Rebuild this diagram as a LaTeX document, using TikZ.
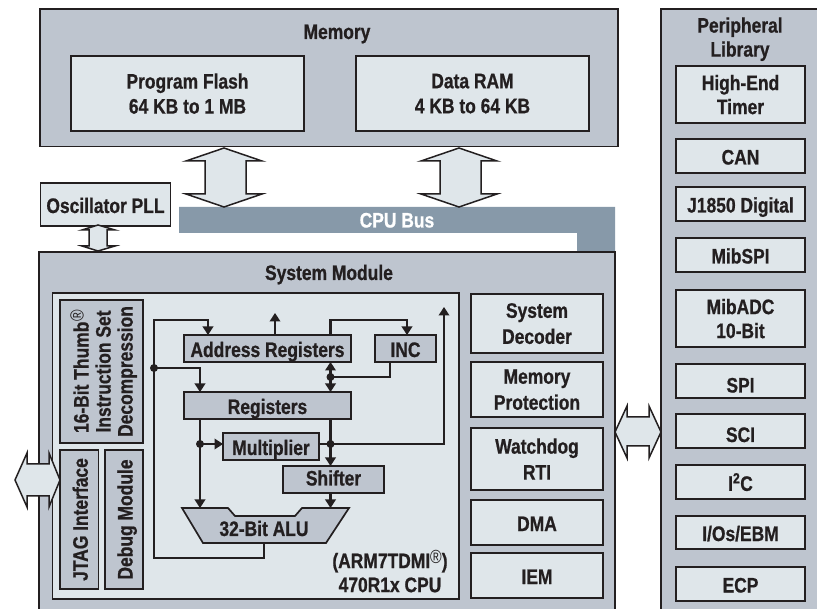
\documentclass[tikz,border=0pt]{standalone}
\usepackage{fontspec}
\setmainfont[FakeStretch=0.83,BoldFeatures={FakeBold=0.8}]{Liberation Sans}
\usetikzlibrary{arrows.meta}
\definecolor{panel}{HTML}{BEC5CF}
\definecolor{pale}{HTML}{DFE6EA}
\definecolor{busc}{HTML}{8799A9}
\definecolor{ink}{HTML}{231F20}
\newcommand\regmark{\raisebox{5pt}{\fontsize{19}{19}\selectfont\mdseries ®}}
\tikzset{
  lift/.style={execute at begin node={\rule{0pt}{#1pt}}},
  lbl/.style={text=ink,align=center,inner sep=0pt,text depth=0pt,font=\bfseries\fontsize{21}{26}\selectfont,lift=17},
  paleb/.style={lbl,draw=ink,line width=1.7pt,fill=pale,outer sep=0pt},
  greyb/.style={lbl,draw=ink,line width=1.7pt,fill=panel,outer sep=0pt},
  panelb/.style={fill=panel,draw=ink,line width=1.7pt},
  wire/.style={draw=ink,line width=2.6pt},
  arr/.style={wire,-{Triangle[length=8.5pt,width=10.5pt]}},
  darr/.style={wire,{Triangle[length=8.5pt,width=10.5pt]}-{Triangle[length=8.5pt,width=10.5pt]}},
  dot/.style={circle,fill=ink,inner sep=0pt,minimum size=8pt},
  dbl/.style={fill=pale,draw=ink,line width=1.5pt,line join=miter},
  tight/.style={font=\bfseries\fontsize{21}{24}\selectfont},
  memb/.style={paleb,font=\bfseries\fontsize{21}{25}\selectfont,lift=21},
  thumbb/.style={greyb,execute at begin node={},font=\bfseries\fontsize{21}{22}\selectfont}
}
% [style] name x0 y0 x1 y1 text
\newcommand\bx[7][paleb]{%
  \pgfmathsetmacro\cxv{(#3+#5)/2}\pgfmathsetmacro\cyv{(#4+#6)/2}%
  \node[#1,minimum width={(#5-#3)*1pt},minimum height={(#6-#4)*1pt}] (#2) at (\cxv,\cyv) {#7};}
\newcommand\vbx[7][greyb]{%
  \pgfmathsetmacro\cxv{(#3+#5)/2}\pgfmathsetmacro\cyv{(#4+#6)/2}%
  \node[#1,rotate=90,minimum width={(#6-#4)*1pt},minimum height={(#5-#3)*1pt}] (#2) at (\cxv,\cyv) {#7};}
\begin{document}
\begin{tikzpicture}[x=1pt,y=-1pt]
\useasboundingbox (0,0) rectangle (817,609);
\fill[white] (0,0) rectangle (817,609);
% Memory
\bx[panelb]{memory}{40}{9}{618}{146.5}{}
\node[lbl] (memt) at (337,30.5) {Memory};
\bx[memb]{flash}{71}{56}{304}{131}{Program Flash\\64 KB to 1 MB}
\bx[memb]{ram}{356}{56}{589}{131}{Data RAM\\4 KB to 64 KB}
% CPU bus
\fill[busc] (179,207) -- (615,207) -- (615,254) -- (577,254) -- (577,233) -- (179,233) -- cycle;
\node[lbl,text=white] (bus) at (397,219) {CPU Bus};
% bus arrows
\draw[dbl] (224,148) -- (262,161) -- (246,161) -- (246,194) -- (262,194) -- (224,207) -- (186,194) -- (205,194) -- (205,161) -- (186,161) -- cycle;
\draw[dbl] (459,148) -- (497,161) -- (481,161) -- (481,194) -- (497,194) -- (459,207) -- (421,194) -- (440,194) -- (440,161) -- (421,161) -- cycle;
% Oscillator
\bx{osc}{40.5}{183}{170.5}{226}{Oscillator PLL}
\draw[dbl] (98,225) -- (115,230) -- (107,230) -- (107,246) -- (115,246) -- (98,251) -- (82,246) -- (89,246) -- (89,230) -- (82,230) -- cycle;
% System module
\fill[panel] (39,252) rectangle (615,609);
\draw[ink,line width=1.7pt] (39,609) -- (39,252) -- (615,252) -- (615,609);
\node[lbl] (sys) at (329,271.5) {System Module};
\bx{cpu}{52.5}{293}{459}{599}{}
\vbx[thumbb]{thumb}{60}{300}{143}{443}{16-Bit Thumb\regmark\\Instruction Set\\Decompression}
\vbx{jtag}{60}{450}{98.5}{589}{JTAG Interface}
\vbx{debug}{105}{450}{143}{589}{Debug Module}
% CPU blocks
\bx[greyb]{areg}{184}{335}{351}{362}{Address Registers}
\bx[greyb]{inc}{375}{335}{436}{362}{INC}
\bx[greyb]{regs}{184}{392}{351}{419}{Registers}
\bx[greyb]{mult}{223}{433}{319}{460}{Multiplier}
\bx[greyb,text height=12pt]{shift}{283}{466}{384}{493}{Shifter}
\draw[fill=panel,draw=ink,line width=1.7pt] (182,508) -- (228,508) -- (235,516) -- (295,516) -- (302,508) -- (349,508) -- (326,543) -- (203,543) -- cycle;
\node[lbl] (alu) at (264,527.5) {32-Bit ALU};
\coordinate (alutop) at (0,508);
\coordinate (alubot) at (264,543);
\node[lbl,tight] (cpulab) at (390,571) {(ARM7TDMI\regmark)\\470R1x CPU};
% wires
\coordinate (xl) at (154,0);
\coordinate (xa) at (208,0);
\coordinate (xb) at (200,0);
\coordinate (xu) at (275,0);
\coordinate (xr) at (330.5,0);
\coordinate (xi) at (407,0);
\coordinate (xo) at (444,0);
\coordinate (yt) at (0,320);
\coordinate (ydot) at (0,368);
\coordinate (ym) at (0,377);
\coordinate (yw) at (0,444);
\draw[arr] (alubot) |- (154,558) -- (xl |- yt) -- (xa |- yt) -- (xa |- areg.north);
\node[dot] (d1) at (xl |- ydot) {};
\draw[arr] (d1.center) -| (xb |- regs.north);
\draw[arr] (xu |- areg.north) -- (275,313);
\draw[arr] (xr |- areg.north) |- (xi |- yt) -- (xi |- inc.north);
\draw[darr] (xr |- areg.south) -- (xr |- regs.north);
\node[dot] (d2) at (xr |- ym) {};
\draw[wire] (390,362) |- (d2.center);
\draw[arr] (xb |- regs.south) -- (xb |- alutop);
\node[dot] (d3) at (xb |- yw) {};
\draw[arr] (d3.center) -- (mult.west |- yw);
\draw[arr] (xr |- regs.south) -- (xr |- shift.north);
\node[dot] (d4) at (xr |- yw) {};
\draw[arr] (mult.east |- yw) -| (xo |- 0,307);
\draw[arr] (xr |- shift.south) -- (xr |- alutop);
% side modules
\bx{sdec}{471}{294}{603}{353}{System\\Decoder}
\bx{mprot}{471}{362}{603}{417}{Memory\\Protection}
\bx{wdog}{471}{428}{603}{490}{Watchdog\\RTI}
\bx{dma}{471}{500}{603}{545}{DMA}
\bx{iem}{471}{553}{603}{598}{IEM}
% Peripheral library
\fill[panel] (661,9) rectangle (817,609);
\draw[ink,line width=1.7pt] (661,609) -- (661,9) -- (817,9);
\node[lbl,tight] (peri) at (740,37) {Peripheral\\Library};
\bx[paleb,tight]{het}{676}{66}{805}{123}{High-End\\Timer}
\bx{can}{676}{139}{805}{173}{CAN}
\bx{j1850}{676}{187}{805}{221}{J1850 Digital}
\bx{mibspi}{676}{238}{805}{272}{MibSPI}
\bx[paleb,tight]{mibadc}{676}{290}{805}{347}{MibADC\\10-Bit}
\bx[paleb,lift=23]{spi}{676}{364}{805}{398}{SPI}
\bx[paleb,lift=22]{sci}{676}{414}{805}{448}{SCI}
\bx{i2c}{676}{465}{805}{499}{I\textsuperscript{2}C}
\bx{ios}{676}{516}{805}{549}{I/Os/EBM}
\bx{ecp}{676}{567}{805}{601}{ECP}
% side double arrows
\draw[dbl] (615,432) -- (627,406) -- (627,417) -- (649,417) -- (649,406) -- (661,432) -- (649,458) -- (649,446) -- (627,446) -- (627,458) -- cycle;
\draw[dbl] (15,480) -- (27,453) -- (27,464) -- (49,464) -- (49,453) -- (60,480) -- (49,507) -- (49,496) -- (27,496) -- (27,507) -- cycle;
\end{tikzpicture}
\end{document}
